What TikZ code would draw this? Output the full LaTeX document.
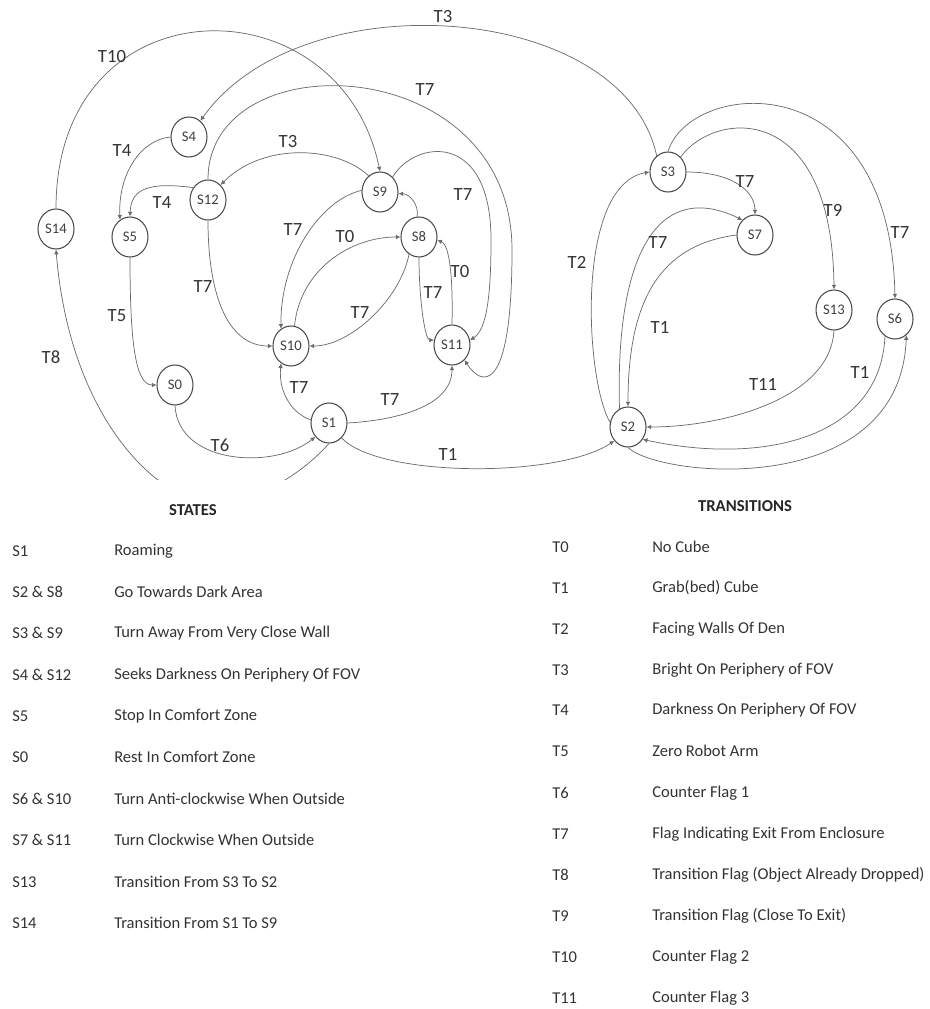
\documentclass[tikz,border=0pt]{standalone}
\usepackage{fontspec}
\setmainfont{Carlito}
\usetikzlibrary{arrows.meta,shapes.geometric}
\tikzset{
	state/.style={draw=black!70,line width=0.8pt,ellipse,minimum width=27pt,minimum height=30pt,inner sep=0pt,font=\fontsize{11}{13}\selectfont,text=black!75},
	trans/.style={draw=black!58,line width=0.55pt,-{Latex[length=3.5pt,width=3.5pt]}},
	lbl/.style={font=\fontsize{14}{16}\selectfont,text=black!80,inner sep=0pt},
	code/.style={anchor=west,font=\fontsize{12.4}{15}\selectfont,text=black!80,inner sep=0pt},
	head/.style={font=\bfseries\fontsize{12.5}{15}\selectfont,text=black!85,inner sep=0pt}
}
\begin{document}
\begin{tikzpicture}[x=0.75pt,y=0.75pt]
		\useasboundingbox (0,0) rectangle (929,-1009);
		
		% states
		\node[state] (s4) at (189,-137) {S4};
		\node[state] (s12) at (208,-200) {S12};
		\node[state] (s14) at (56,-229) {S14};
		\node[state] (s5) at (130,-237) {S5};
		\node[state] (s0) at (175,-385) {S0};
		\node[state] (s10) at (291,-346) {S10};
		\node[state] (s1) at (329,-423) {S1};
		\node[state] (s9) at (380,-192) {S9};
		\node[state] (s8) at (419,-237) {S8};
		\node[state] (s11) at (452,-345) {S11};
		\node[state] (s3) at (668,-172) {S3};
		\node[state] (s7) at (755,-235) {S7};
		\node[state] (s13) at (834,-310) {S13};
		\node[state] (s6) at (895,-319) {S6};
		\node[state] (s2) at (628,-427) {S2};
		
		% transitions
		\draw[trans] (s14.north) .. controls (56,20) and (340,22) .. (s9.north);
		\draw[trans] (s3.125) .. controls (624,-2) and (302,22) .. (s4.55);
		\draw[trans] (s12.north) .. controls (208,-40) and (512,-50) .. (512,-250) .. controls (512,-400) and (480,-385) .. (s11.-50);
		\draw[trans] (s9.50) .. controls (415,-140) and (491,-130) .. (491,-240) .. controls (491,-300) and (486,-330) .. (s11.15);
		\draw[trans] (s9.125) .. controls (337,-146) and (263,-142) .. (s12.50);
		\draw[trans] (s4.west) .. controls (140,-140) and (118,-175) .. (s5.120);
		\draw[trans] (s12.140) .. controls (150,-182) and (131,-188) .. (s5.north);
		\draw[trans] (s12.south) .. controls (208,-300) and (230,-346) .. (s10.west);
		\draw[trans] (s5.south) .. controls (130,-340) and (135,-385) .. (s0.west);
		\begin{scope}
			\clip (0,0) rectangle (929,-479);
			\draw[trans] (s1.south) .. controls (305,-470) and (270,-495) .. (220,-505) .. controls (160,-505) and (70,-420) .. (s14.south);
		\end{scope}
		\draw[trans] (s0.south) .. controls (178,-465) and (275,-470) .. (s1.-135);
		\draw[trans] (s1.170) .. controls (295,-415) and (278,-395) .. (s10.-120);
		\draw[trans] (s1.east) .. controls (400,-420) and (452,-405) .. (s11.south);
		\draw[trans] (s1.-50) .. controls (380,-478) and (560,-478) .. (s2.-135);
		\draw[trans] (s9.175) .. controls (320,-200) and (280,-260) .. (s10.120);
		\draw[trans] (s10.80) .. controls (300,-270) and (350,-237) .. (s8.west);
		\draw[trans] (s8.-120) .. controls (400,-300) and (350,-346) .. (s10.east);
		\draw[trans] (s8.95) .. controls (419,-205) and (410,-194) .. (s9.-5);
		\draw[trans] (s8.south) .. controls (419,-300) and (425,-340) .. (s11.165);
		\draw[trans] (s11.north) .. controls (453,-280) and (450,-245) .. (s8.-10);
		\draw[trans] (s2.165) .. controls (585,-380) and (575,-185) .. (s3.west);
		\draw[trans] (s2.115) .. controls (615,-250) and (660,-180) .. (s7.130);
		\draw[trans] (s3.east) .. controls (730,-172) and (755,-190) .. (s7.north);
		\draw[trans] (s7.west) .. controls (660,-245) and (628,-300) .. (s2.north);
		\draw[trans] (s3.50) .. controls (715,-110) and (832,-100) .. (s13.north);
		\draw[trans] (s3.north) .. controls (690,-80) and (890,-60) .. (s6.north);
		\draw[trans] (s13.south) .. controls (830,-400) and (720,-427) .. (s2.east);
		\draw[trans] (s6.-120) .. controls (880,-440) and (760,-465) .. (s2.-40);
		\draw[trans] (s2.south) .. controls (660,-478) and (900,-500) .. (s6.-55);
		
		% labels
		\node[lbl] (t10a) at (112,-57) {T10};
		\node[lbl] (t3a) at (443,-17) {T3};
		\node[lbl] (t7a) at (425,-90) {T7};
		\node[lbl] (t3b) at (288,-142) {T3};
		\node[lbl] (t4a) at (122,-151) {T4};
		\node[lbl] (t4b) at (162,-203) {T4};
		\node[lbl] (t7b) at (463,-195) {T7};
		\node[lbl] (t7c) at (293,-230) {T7};
		\node[lbl] (t0a) at (345,-237) {T0};
		\node[lbl] (t7d) at (203,-287) {T7};
		\node[lbl] (t7e) at (360,-313) {T7};
		\node[lbl] (t7f) at (433,-293) {T7};
		\node[lbl] (t0b) at (460,-272) {T0};
		\node[lbl] (t5a) at (117,-316) {T5};
		\node[lbl] (t8a) at (51,-357) {T8};
		\node[lbl] (t7g) at (299,-388) {T7};
		\node[lbl] (t6a) at (220,-445) {T6};
		\node[lbl] (t7h) at (390,-400) {T7};
		\node[lbl] (t1a) at (448,-454) {T1};
		\node[lbl] (t2a) at (577,-262) {T2};
		\node[lbl] (t7i) at (658,-243) {T7};
		\node[lbl] (t7j) at (745,-182) {T7};
		\node[lbl] (t9a) at (833,-210) {T9};
		\node[lbl] (t7k) at (900,-233) {T7};
		\node[lbl] (t1b) at (660,-327) {T1};
		\node[lbl] (t11a) at (763,-384) {T11};
		\node[lbl] (t1c) at (860,-372) {T1};
		
		% legend of states
		\node[head] (hstates) at (193,-510) {STATES};
		\node[code] (cs1) at (12,-551) {S1};        \node[code] (ds1) at (114,-551) {Roaming};
		\node[code] (cs2) at (12,-592) {S2 \& S8};  \node[code] (ds2) at (114,-592) {Go Towards Dark Area};
		\node[code] (cs3) at (12,-633) {S3 \& S9};  \node[code] (ds3) at (114,-633) {Turn Away From Very Close Wall};
		\node[code] (cs4) at (12,-675) {S4 \& S12}; \node[code] (ds4) at (114,-675) {Seeks Darkness On Periphery Of FOV};
		\node[code] (cs5) at (12,-716) {S5};        \node[code] (ds5) at (114,-716) {Stop In Comfort Zone};
		\node[code] (cs0) at (12,-757) {S0};        \node[code] (ds0) at (114,-757) {Rest In Comfort Zone};
		\node[code] (cs6) at (12,-799) {S6 \& S10}; \node[code] (ds6) at (114,-799) {Turn Anti-clockwise When Outside};
		\node[code] (cs7) at (12,-840) {S7 \& S11}; \node[code] (ds7) at (114,-840) {Turn Clockwise When Outside};
		\node[code] (cs13) at (12,-882) {S13};      \node[code] (ds13) at (114,-882) {Transition From S3 To S2};
		\node[code] (cs14) at (12,-923) {S14};      \node[code] (ds14) at (114,-923) {Transition From S1 To S9};
		
		% legend of transitions
		\node[head] (htrans) at (745,-506) {TRANSITIONS};
		\node[code] (ct0) at (552,-547) {T0};   \node[code] (dt0) at (652,-547) {No Cube};
		\node[code] (ct1) at (552,-588) {T1};   \node[code] (dt1) at (652,-588) {Grab(bed) Cube};
		\node[code] (ct2) at (552,-629) {T2};   \node[code] (dt2) at (652,-629) {Facing Walls Of Den};
		\node[code] (ct3) at (552,-670) {T3};   \node[code] (dt3) at (652,-670) {Bright On Periphery of FOV};
		\node[code] (ct4) at (552,-710) {T4};   \node[code] (dt4) at (652,-710) {Darkness On Periphery Of FOV};
		\node[code] (ct5) at (552,-751) {T5};   \node[code] (dt5) at (652,-751) {Zero Robot Arm};
		\node[code] (ct6) at (552,-793) {T6};   \node[code] (dt6) at (652,-793) {Counter Flag 1};
		\node[code] (ct7) at (552,-834) {T7};   \node[code] (dt7) at (652,-834) {Flag Indicating Exit From Enclosure};
		\node[code] (ct8) at (552,-875) {T8};   \node[code] (dt8) at (652,-875) {Transition Flag (Object Already Dropped)};
		\node[code] (ct9) at (552,-916) {T9};   \node[code] (dt9) at (652,-916) {Transition Flag (Close To Exit)};
		\node[code] (ct10) at (552,-957) {T10}; \node[code] (dt10) at (652,-957) {Counter Flag 2};
		\node[code] (ct11) at (552,-998) {T11}; \node[code] (dt11) at (652,-998) {Counter Flag 3};
	\end{tikzpicture}
\end{document}
